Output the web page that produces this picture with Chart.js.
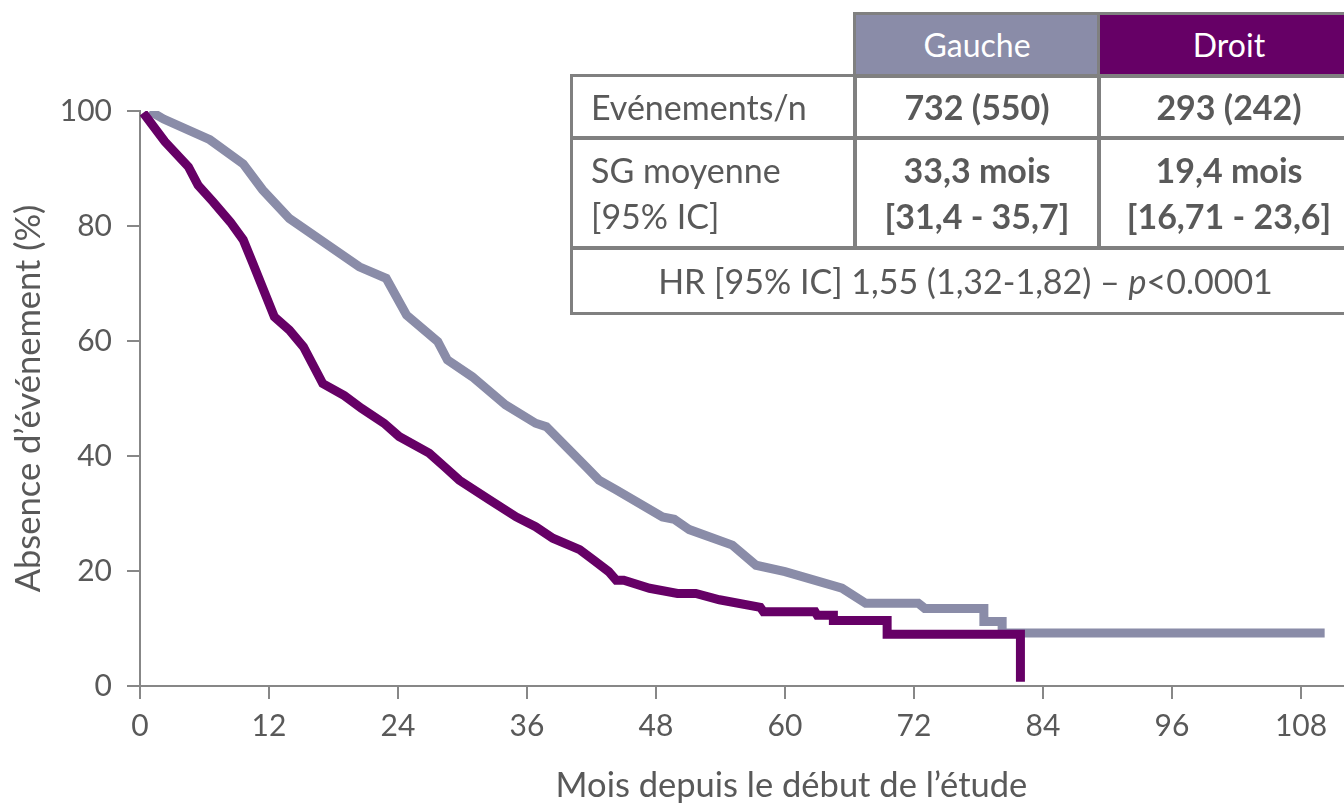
<!DOCTYPE html>
<html>
<head>
<meta charset="utf-8">
<script src="https://cdn.jsdelivr.net/npm/chart.js@4/dist/chart.umd.min.js"></script>
<style>
  html, body { margin: 0; padding: 0; background: #fff; }
  #wrap { position: relative; width: 1344px; height: 806px; overflow: hidden; }
  #km { position: absolute; left: 0; top: 0; }
  .cell {
    position: absolute; box-sizing: border-box; border: 3px solid #808080;
    display: flex; flex-direction: column; justify-content: center; align-items: center;
    font-family: Lato, sans-serif; font-size: 34px; color: #595959; line-height: 46px;
    white-space: nowrap;
  }
  .cell.lab { align-items: flex-start; padding-left: 18px; }
  .cell.val { font-weight: 700; }
  .cell.hg { background: #8a8ca8; color: #fff; font-size: 32px; }
  .cell.hd { background: #660066; color: #fff; font-size: 32px; }
</style>
</head>
<body>
<div id="wrap">
  <canvas id="km" width="1344" height="806"></canvas>
  <div class="cell hg" style="left:853px;top:12px;width:248px;height:66px;">Gauche</div>
  <div class="cell hd" style="left:1097px;top:12px;width:264px;height:66px;">Droit</div>
  <div class="cell lab" style="left:570px;top:74px;width:287px;height:66px;">Evénements/n</div>
  <div class="cell val" style="left:853px;top:74px;width:248px;height:66px;">732 (550)</div>
  <div class="cell val" style="left:1097px;top:74px;width:264px;height:66px;">293 (242)</div>
  <div class="cell lab" style="left:570px;top:136px;width:287px;height:114px;"><span>SG moyenne</span><span>[95% IC]</span></div>
  <div class="cell val" style="left:853px;top:136px;width:248px;height:114px;"><span>33,3 mois</span><span>[31,4 - 35,7]</span></div>
  <div class="cell val" style="left:1097px;top:136px;width:264px;height:114px;"><span>19,4 mois</span><span>[16,71 - 23,6]</span></div>
  <div class="cell" style="left:570px;top:246px;width:791px;height:69px;"><span>HR [95% IC] 1,55 (1,32-1,82) – <i>p</i>&lt;0.0001</span></div>
</div>
<script>
// Kaplan-Meier survival estimates (months, % event-free)
const gaucheMonths = [0.9, 2.2, 6.5, 9.6, 11.4, 13.9, 20.4, 22.9, 24.8, 27.7, 28.6, 30.9, 34.0, 36.8, 37.8, 41.5, 42.7, 44.3, 48.6, 49.7, 51.1, 55.1, 57.3, 60.0, 65.3, 67.5, 72.4, 73.0, 78.5, 78.5, 80.2, 80.2, 110.2];
const gaucheSurvival = [100, 98.6, 95.0, 90.8, 86.3, 81.3, 72.9, 70.9, 64.5, 59.9, 56.7, 53.8, 48.9, 45.7, 45.1, 38.1, 35.8, 34.1, 29.4, 29.0, 27.2, 24.5, 21.0, 19.9, 17.0, 14.4, 14.4, 13.5, 13.5, 11.2, 11.2, 9.2, 9.2];

const droitMonths = [0.3, 2.3, 4.5, 5.4, 6.8, 8.4, 9.6, 10.5, 12.5, 13.9, 15.2, 17.0, 19.0, 20.6, 22.7, 24.1, 26.9, 28.4, 29.7, 32.5, 35.0, 36.8, 38.4, 40.9, 42.2, 43.6, 44.3, 45.0, 47.4, 50.0, 51.7, 53.9, 57.7, 58.0, 62.8, 63.0, 64.5, 64.5, 69.5, 69.5, 81.9, 81.9];
const droitSurvival = [99.7, 94.7, 90.3, 87.1, 84.2, 80.7, 77.6, 73.5, 64.2, 61.9, 59.0, 52.6, 50.5, 48.3, 45.7, 43.4, 40.5, 38.0, 35.8, 32.4, 29.4, 27.7, 25.7, 23.7, 21.9, 19.9, 18.4, 18.4, 17.0, 16.1, 16.1, 15.0, 13.7, 12.9, 12.9, 12.3, 12.3, 11.4, 11.4, 9.0, 9.0, 0.75];

const xTickValues = [0, 12, 24, 36, 48, 60, 72, 84, 96, 108];
const yTickValues = [0, 20, 40, 60, 80, 100];

const xTitle = 'Mois depuis le début de l’étude';
const yTitle = 'Absence d’événement (%)';

const axisGrey = '#878787';
const textGrey = '#595959';
const tickFont = { family: 'Lato', size: 30 };
const titleFont = { family: 'Lato', size: 34.5 };

const toPoints = (xs, ys) => xs.map((x, i) => ({ x, y: ys[i] }));

// The x-axis title sits under the middle of a 0-120 month span, so it is drawn here
const xTitlePlugin = {
  id: 'xTitleBelow',
  afterDraw(chart) {
    const { ctx, scales: { x } } = chart;
    ctx.save();
    ctx.font = `${titleFont.size}px ${titleFont.family}`;
    ctx.fillStyle = textGrey;
    ctx.textAlign = 'center';
    ctx.textBaseline = 'middle';
    ctx.fillText(xTitle, x.getPixelForValue(60.6), 786);
    ctx.restore();
  }
};

new Chart(document.getElementById('km'), {
  type: 'line',
  data: {
    datasets: [
      {
        label: 'Droit',
        data: toPoints(droitMonths, droitSurvival),
        borderColor: '#660066',
        borderWidth: 9,
        order: 0
      },
      {
        label: 'Gauche',
        data: toPoints(gaucheMonths, gaucheSurvival),
        borderColor: '#8a8ca8',
        borderWidth: 9,
        order: 1
      }
    ]
  },
  plugins: [xTitlePlugin],
  options: {
    responsive: false,
    animation: false,
    layout: { padding: { top: 111, right: 0, bottom: 0, left: 0 } },
    elements: {
      point: { radius: 0 },
      line: { tension: 0, fill: false, borderCapStyle: 'butt', borderJoinStyle: 'miter' }
    },
    plugins: { legend: { display: false }, tooltip: { enabled: false } },
    scales: {
      x: {
        type: 'linear',
        min: 0,
        max: 112,
        afterBuildTicks: s => { s.ticks = xTickValues.map(v => ({ value: v })); },
        afterFit: s => { s.height = 120; },
        grid: { drawOnChartArea: false, drawTicks: true, tickLength: 13, color: axisGrey, lineWidth: 2 },
        border: { display: true, color: axisGrey, width: 2 },
        ticks: { color: textGrey, font: tickFont, padding: 9, maxRotation: 0, autoSkip: false },
        title: { display: false }
      },
      y: {
        min: 0,
        max: 100,
        afterBuildTicks: s => { s.ticks = yTickValues.map(v => ({ value: v })); },
        afterFit: s => { s.width = 140; },
        grid: { drawOnChartArea: false, drawTicks: true, tickLength: 13, color: axisGrey, lineWidth: 2 },
        border: { display: true, color: axisGrey, width: 2 },
        ticks: { color: textGrey, font: tickFont, padding: 15 },
        title: { display: true, text: yTitle, color: textGrey, font: titleFont, padding: { top: 8, bottom: 0 } }
      }
    }
  }
});
</script>
</body>
</html>
